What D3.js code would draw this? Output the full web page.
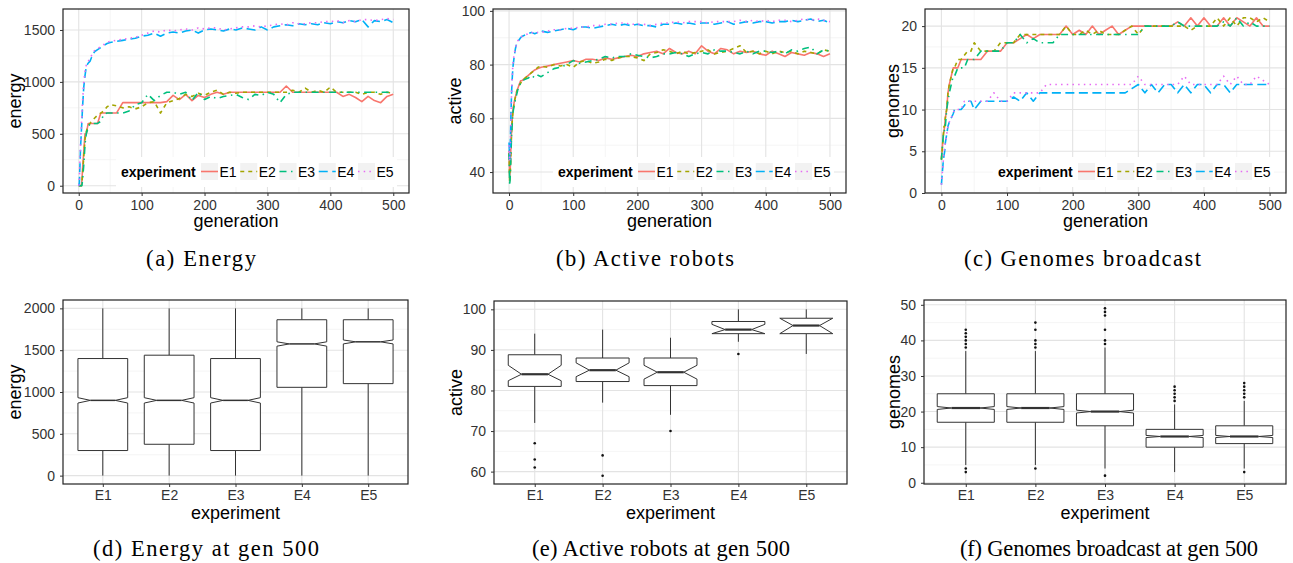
<!DOCTYPE html>
<html>
<head>
<meta charset="utf-8">
<script src="https://cdn.jsdelivr.net/npm/d3@7"></script>
<style>
  body { margin: 0; background: #fff; }
  svg { display: block; }
</style>
</head>
<body>
<svg id="fig" width="1293" height="563"></svg>
<script>
// ---------- data ----------
const experiments = ["E1", "E2", "E3", "E4", "E5"];
const generationTicks = [0, 100, 200, 300, 400, 500];

const generations = [0,1,2,3,4,5,6,8,10,12,15,18,20,25,30,35,40,45,50,
  60,70,80,90,100,110,120,130,140,150,160,170,180,190,200,210,220,230,240,250,
  260,270,280,290,300,310,320,330,340,350,360,370,380,390,400,410,420,430,440,450,
  460,470,480,490,500];

// energy per generation
const energyE1 = [0,0,0,0,0,50,150,330,500,500,600,600,600,600,600,700,700,700,700,
  700,800,800,800,800,800,800,800,810,870, 830,880,820,870,850,880,900,880,900,900,
  900,900,900,900,900,900,900,960,900,900, 900,900,900,900,900,900,860,880,850,810,
  860,820,800,860,880];
const energyE2 = [0,0,0,0,0,20,100,280,450,520,580,600,620,650,680,700,720,760,780,
  770,750,760,740,760,800,810,700,800,820, 840,880,860,890,870,900,920,880,900,890,
  900,900,900,900,900,900,900,900,920,900, 940,900,920,900,950,900,900,900,900,880,
  900,900,880,900,890];
const energyE3 = [0,0,0,0,0,0,50,200,400,500,560,600,600,600,600,620,690,700,700,
  700,700,720,780,800,880,820,870,900,900, 880,900,820,900,830,860,840,860,870,880,
  850,830,880,870,900,880,800,880,900,900, 900,900,900,900,900,900,900,900,900,900,
  900,900,900,900,900];
const energyE4 = [0,30,200,380,500,620,750,950,1060,1150,1180,1200,1230,1290,1310,1330,1350,1370,1380,
  1390,1400,1410,1420,1440,1450,1470,1440,1470,1480, 1470,1490,1500,1470,1500,1510,1500,1490,1510,1500,
  1520,1510,1500,1530,1500,1530,1540,1550,1540,1560, 1550,1560,1550,1570,1560,1580,1570,1590,1580,1600,
  1530,1590,1580,1600,1570];
const energyE5 = [0,50,250,420,540,680,800,1000,1100,1160,1200,1220,1250,1300,1320,1340,1360,1380,1390,
  1400,1410,1420,1430,1450,1470,1490,1480,1500,1490, 1500,1510,1500,1520,1510,1520,1520,1500,1510,1520,
  1530,1530,1540,1530,1540,1550,1560,1550,1570,1560, 1560,1570,1570,1580,1580,1590,1570,1590,1580,1600,
  1600,1590,1600,1610,1600];

// active robots per generation
const activeE1 = [48,38,42,50,56,60,63,66,68,70,72,74,74,75,76,77,78,78.5,79,
  79.5,80,80.5,81,81.5,81,82,82,81.5,82.5, 82,82.5,83,83.5,83,84,84.5,85,84,86,
  84.5,84,85,84,87,85,84,86,85.5,84, 85,84.5,85,84,83.5,85,84,83,84.5,84,
  83.5,84.5,84,83,84];
const activeE2 = [47,36,40,48,55,59,62,66,68,70,72,73,74,75,76,77,78,79,79.5,
  79,80,79.5,80,79,81,81.5,80.5,81,82, 81.5,82.5,83,83,82.5,81.5,84,84.5,85.5,85,
  84,85,84,84.5,85,85.5,84,84.5,85,86, 87,84.5,85,84,85,84,85,84.5,85,84,
  85,84.5,84,85.5,85];
const activeE3 = [47,35,39,47,54,58,62,65,67,69,72,73,74,74.5,75,76,75,76,75.5,
  77,78.5,79,80,81.5,80.5,81,81.5,82,83, 82.5,83,83,84,83.5,83,82.5,83,84,84,
  84.5,84,83,84,84.5,84,85.5,85,85,84.5, 84,85,84,85,85,84.5,85,84,85.5,85,
  86,86.5,84,85.5,85];
const activeE4 = [51,45,50,62,70,75,79,83,86,88,89,90,90.5,91,91.5,92,91.5,92,92.5,
  92,92.5,93,93.5,93,94,94,93.5,94,94.5, 95,94.5,95,94.5,95,94.5,94.5,94,95,95,
  95.5,95,95.5,95,95.5,95.5,95,95.5,96,95, 95.5,96,95.5,96,96,95.5,96,96,96.5,96,
  96.5,97,96,96.5,95.5];
const activeE5 = [50,44,49,61,70,76,80,84,86,88,89.5,90,90.5,91,91.5,92,91.5,92,92,
  92.5,93,93,93.5,93.5,94,94,94.5,94.5,95, 95,95.5,95.5,95,95,95,94.5,95,95.5,95.5,
  96,95.5,96,96,96,95.5,96,96,96,96, 96.5,96,96.5,96,96.5,96,96.5,96.5,96,96.5,
  97,96.5,97,96.5,96];

// genomes broadcast per generation
const genomesE1 = [4,5,6,7,7.5,8,9,10,12,13,14,15,15,15,16,16,16,16,16,
  16,17,17,17,18,18,18.5,19,18.5,19, 19,19,19,20,19,19.5,19,20,19,19.5,
  20,19,19.5,20,20,20,20,20,20,20, 20.5,20,21,20,21,20,20,21,20,21,
  20.5,20,21,20,20];
const genomesE2 = [4,5,6,7,8,8,9,10,12,13,14,15,15,16,16,16.5,17,17,18,
  17,17,17,18,18,18,19,19,19,19, 19,19,19,20,19,19,19.5,19,19.5,19,
  19,19,19.5,20,19,20,20,20,20,20, 20,20,19.5,20,20,20,21,20,21,20,
  21,21,20.5,21,20.5];
const genomesE3 = [4,5,6,7,7,8,8,10,11,12,13,14,14,15,15,15,16,16,16,
  17,17,17,17,18,18,19,18,18.5,18, 18,18,19,19,19,19,19,19,19,19,
  19,19,19,19,19,20,20,20,20,20, 20.5,20,20,20,20,20,20,20.5,20,21,
  20,20.5,20,20,20];
const genomesE4 = [1,2,3,4,4.5,5,6,7,8,8.5,9,9.5,10,10,10,10.5,11,11,10,
  11,11,11,11,11,11.5,11,12,11,12, 12,12,12,12,12,12,12,12,12,12,
  12,12,12,12.5,13,12,13,12,13,13, 12,13,12,13,13,12,13,13,12,13,
  13,13,13,13,13];
const genomesE5 = [1,2,3,4,5,5.5,6,7,8,8.5,9,9.5,10,10,10,11,11,11,11,
  11,11,12,11,11,12,12,12,12,12, 13,13,13,13,13,13,13,13,13,13,
  13,13,13,13,14,13,13,13,13,13, 13,14,13,13,13,13,13,14,13,14,
  13,13,14,13.5,13];

// distributions at generation 500 (whiskers, hinges, median, notch, outliers)
const energyLow = [0, 0, 0, 0, 0];
const energyQ1 = [300, 375, 300, 1056, 1100];
const energyMedian = [900, 900, 900, 1575, 1600];
const energyQ3 = [1400, 1440, 1400, 1864, 1864];
const energyHigh = [2000, 2000, 2000, 2000, 2000];
const energyNotchLo = [868, 868, 868, 1548, 1575];
const energyNotchHi = [932, 932, 932, 1600, 1622];
const energyOutliers = [[], [], [], [], []];

const activeLow = [72, 77, 74, 92, 89];
const activeQ1 = [81, 82.2, 81.2, 94, 94];
const activeMedian = [84, 85, 84.5, 95, 96];
const activeQ3 = [88.8, 88, 88, 97, 97.8];
const activeHigh = [94, 95, 93, 100, 100];
const activeNotchLo = [82.4, 83.4, 82.8, 94, 94];
const activeNotchHi = [86.2, 86.8, 86.2, 96.3, 97.8];
const activeOutliers = [[67, 63, 61], [64, 59], [70], [89], []];

const genomesLow = [5, 5, 4, 3, 4];
const genomesQ1 = [17, 17, 16, 10, 11];
const genomesMedian = [21, 21, 20, 13, 13];
const genomesQ3 = [25, 25, 25, 15, 16];
const genomesHigh = [37, 37, 38, 22, 23];
const genomesNotchLo = [20.6, 20.6, 19.6, 12.7, 12.7];
const genomesNotchHi = [21.4, 21.4, 20.4, 13.3, 13.3];
const genomesOutliers = [[38,39,40,41,42,43,3,4], [38,39,40,43,45,4], [39,40,43,47,48,49,2], [23,24,25,26,27], [24,25,26,27,28,3]];

const captions = ["(a) Energy", "(b) Active robots", "(c) Genomes broadcast",
  "(d) Energy at gen 500", "(e) Active robots at gen 500", "(f) Genomes broadcast at gen 500"];

// ---------- styling ----------
const colors = ["#F8766D", "#A3A500", "#00BF7D", "#00B0F6", "#E76BF3"];
const dashes = [null, "4,4", "7,4.5,1.5,4.5", "9,4.5", "1.5,4.2"];
const fontSans = "'Liberation Sans', Arial, Helvetica, sans-serif";
const fontSerif = "'Liberation Serif', 'Times New Roman', serif";

const svg = d3.select("#fig");
let clipCount = 0;

function styleAxis(sel) {
  sel.select(".domain").remove();
  sel.selectAll(".tick line").attr("stroke", "#333").attr("stroke-width", 1);
  sel.selectAll(".tick text").attr("fill", "#333").attr("font-size", 14).attr("font-family", fontSans);
}

function midpoints(ticks) {
  const m = [];
  for (let i = 0; i < ticks.length - 1; i++) m.push((ticks[i] + ticks[i + 1]) / 2);
  return m;
}

function drawGrid(g, p, x, y, xMajor, xMinor, yMajor, yMinor) {
  const gg = g.append("g");
  const inY = v => y(v) >= p.t && y(v) <= p.b;
  gg.selectAll(null).data(yMinor.filter(inY)).join("line")
    .attr("x1", p.l).attr("x2", p.r).attr("y1", d => y(d)).attr("y2", d => y(d))
    .attr("stroke", "#f2f2f2").attr("stroke-width", 0.8);
  gg.selectAll(null).data(xMinor).join("line")
    .attr("y1", p.t).attr("y2", p.b).attr("x1", d => x(d)).attr("x2", d => x(d))
    .attr("stroke", "#f2f2f2").attr("stroke-width", 0.8);
  gg.selectAll(null).data(yMajor.filter(inY)).join("line")
    .attr("x1", p.l).attr("x2", p.r).attr("y1", d => y(d)).attr("y2", d => y(d))
    .attr("stroke", "#e3e3e3").attr("stroke-width", 1.1);
  gg.selectAll(null).data(xMajor).join("line")
    .attr("y1", p.t).attr("y2", p.b).attr("x1", d => x(d)).attr("x2", d => x(d))
    .attr("stroke", "#e3e3e3").attr("stroke-width", 1.1);
}

function drawBorder(g, p) {
  g.append("rect").attr("x", p.l).attr("y", p.t).attr("width", p.r - p.l).attr("height", p.b - p.t)
    .attr("fill", "none").attr("stroke", "#222").attr("stroke-width", 1.2);
}

function axisTitles(g, p, xTitle, yTitle, yTitleX, xTitleY) {
  g.append("text").attr("x", (p.l + p.r) / 2).attr("y", xTitleY)
    .attr("text-anchor", "middle").attr("font-size", 18).attr("font-family", fontSans)
    .attr("fill", "#000").text(xTitle);
  g.append("text").attr("transform", `translate(${yTitleX},${(p.t + p.b) / 2}) rotate(-90)`)
    .attr("text-anchor", "middle").attr("font-size", 18).attr("font-family", fontSans)
    .attr("fill", "#000").text(yTitle);
}

function drawLegend(g, p) {
  const R = p.r;
  const lg = g.append("g");
  lg.append("rect").attr("x", R - 293).attr("y", p.b - 36).attr("width", 281).attr("height", 30).attr("fill", "#fff");
  lg.append("text").attr("x", R - 288).attr("y", p.b - 16)
    .attr("font-size", 14).attr("font-weight", "bold").attr("font-family", fontSans).attr("fill", "#000")
    .text("experiment");
  experiments.forEach((e, i) => {
    const kx = R - 208 + 39.25 * i;
    lg.append("rect").attr("x", kx).attr("y", p.b - 30).attr("width", 17).attr("height", 17).attr("fill", "#f2f2f2");
    lg.append("line").attr("x1", kx).attr("x2", kx + 17).attr("y1", p.b - 21.5).attr("y2", p.b - 21.5)
      .attr("stroke", colors[i]).attr("stroke-width", 1.6)
      .attr("stroke-dasharray", dashes[i]);
    lg.append("text").attr("x", kx + 18.5).attr("y", p.b - 16)
      .attr("font-size", 14).attr("font-family", fontSans).attr("fill", "#000").text(e);
  });
}

function linePanel(p, yDomain, yMajor, series, yTitle, yTitleX) {
  const g = svg.append("g");
  const x = d3.scaleLinear().domain([-25, 525]).range([p.l, p.r]);
  const y = d3.scaleLinear().domain(yDomain).range([p.b, p.t]);
  drawGrid(g, p, x, y, generationTicks, midpoints(generationTicks), yMajor, midpoints(yMajor));

  const cid = "clip" + (clipCount++);
  g.append("clipPath").attr("id", cid).append("rect")
    .attr("x", p.l).attr("y", p.t).attr("width", p.r - p.l).attr("height", p.b - p.t);
  const line = d3.line().x((d, i) => x(generations[i])).y(d => y(d));
  const lg = g.append("g").attr("clip-path", `url(#${cid})`);
  series.forEach((s, i) => {
    lg.append("path").attr("d", line(s)).attr("fill", "none")
      .attr("stroke", colors[i]).attr("stroke-width", 1.6)
      .attr("stroke-linejoin", "round")
      .attr("stroke-dasharray", dashes[i]);
  });

  drawBorder(g, p);
  g.append("g").attr("transform", `translate(0,${p.b})`)
    .call(d3.axisBottom(x).tickValues(generationTicks).tickFormat(d3.format("d")).tickSize(3).tickPadding(4))
    .call(styleAxis);
  g.append("g").attr("transform", `translate(${p.l},0)`)
    .call(d3.axisLeft(y).tickValues(yMajor).tickFormat(d3.format("d")).tickSize(3).tickPadding(5))
    .call(styleAxis);
  axisTitles(g, p, "generation", yTitle, yTitleX, p.b + 34);
  drawLegend(g, p);
}

function boxPanel(p, yDomain, yMajor, stats, yTitle, yTitleX, widthFrac, medianWidth) {
  const g = svg.append("g");
  const x = d3.scalePoint().domain(experiments).range([p.l, p.r]).padding(0.6);
  const y = d3.scaleLinear().domain(yDomain).range([p.b, p.t]);
  drawGrid(g, p, x, y, experiments, [], yMajor, midpoints(yMajor));

  const hw = x.step() * widthFrac / 2;
  const ink = "#333";
  experiments.forEach((e, i) => {
    const cx = x(e);
    const bg = g.append("g");
    bg.append("line").attr("x1", cx).attr("x2", cx).attr("y1", y(stats.low[i])).attr("y2", y(stats.q1[i]))
      .attr("stroke", ink).attr("stroke-width", 1);
    bg.append("line").attr("x1", cx).attr("x2", cx).attr("y1", y(stats.q3[i])).attr("y2", y(stats.high[i]))
      .attr("stroke", ink).attr("stroke-width", 1);
    const pts = [
      [cx - hw, y(stats.q1[i])], [cx - hw, y(stats.notchLo[i])], [cx - hw / 2, y(stats.median[i])],
      [cx - hw, y(stats.notchHi[i])], [cx - hw, y(stats.q3[i])], [cx + hw, y(stats.q3[i])],
      [cx + hw, y(stats.notchHi[i])], [cx + hw / 2, y(stats.median[i])], [cx + hw, y(stats.notchLo[i])],
      [cx + hw, y(stats.q1[i])]
    ];
    bg.append("path").attr("d", "M" + pts.map(q => q.join(",")).join("L") + "Z")
      .attr("fill", "#fff").attr("stroke", ink).attr("stroke-width", 1);
    bg.append("line").attr("x1", cx - hw / 2).attr("x2", cx + hw / 2)
      .attr("y1", y(stats.median[i])).attr("y2", y(stats.median[i]))
      .attr("stroke", ink).attr("stroke-width", medianWidth);
    bg.selectAll(null).data(stats.outliers[i]).join("circle")
      .attr("cx", cx).attr("cy", d => y(d)).attr("r", 1.3).attr("fill", "#111");
  });

  drawBorder(g, p);
  g.append("g").attr("transform", `translate(0,${p.b})`)
    .call(d3.axisBottom(x).tickSize(3).tickPadding(3.5))
    .call(styleAxis);
  g.append("g").attr("transform", `translate(${p.l},0)`)
    .call(d3.axisLeft(y).tickValues(yMajor).tickFormat(d3.format("d")).tickSize(3).tickPadding(5))
    .call(styleAxis);
  axisTitles(g, p, "experiment", yTitle, yTitleX, p.b + 35);
}

// ---------- panels ----------
linePanel({l: 63, r: 409, t: 9, b: 193}, [-70, 1702], [0, 500, 1000, 1500],
  [energyE1, energyE2, energyE3, energyE4, energyE5], "energy", 20.5);
linePanel({l: 493, r: 846, t: 9, b: 193}, [32.2, 100.7], [40, 60, 80, 100],
  [activeE1, activeE2, activeE3, activeE4, activeE5], "active", 461);
linePanel({l: 925, r: 1286, t: 9, b: 193}, [0, 22.05], [0, 5, 10, 15, 20],
  [genomesE1, genomesE2, genomesE3, genomesE4, genomesE5], "genomes", 899);

boxPanel({l: 63, r: 408, t: 300, b: 484}, [-100, 2100], [0, 500, 1000, 1500, 2000],
  {low: energyLow, q1: energyQ1, median: energyMedian, q3: energyQ3, high: energyHigh,
   notchLo: energyNotchLo, notchHi: energyNotchHi, outliers: energyOutliers},
  "energy", 20.5, 0.75, 1.5);
boxPanel({l: 494, r: 847, t: 301, b: 484}, [56.95, 102.05], [60, 70, 80, 90, 100],
  {low: activeLow, q1: activeQ1, median: activeMedian, q3: activeQ3, high: activeHigh,
   notchLo: activeNotchLo, notchHi: activeNotchHi, outliers: activeOutliers},
  "active", 461.5, 0.78, 2.2);
boxPanel({l: 924, r: 1286, t: 300, b: 484}, [-0.35, 51.35], [0, 10, 20, 30, 40, 50],
  {low: genomesLow, q1: genomesQ1, median: genomesMedian, q3: genomesQ3, high: genomesHigh,
   notchLo: genomesNotchLo, notchHi: genomesNotchHi, outliers: genomesOutliers},
  "genomes", 900, 0.82, 2.2);

// ---------- sub-figure captions ----------
const captionX = [201, 645, 1082.5, 206, 661, 1109];
const captionY = [266, 266, 266, 556, 556, 556];
const captionWidth = [110, 178, 237, 226, 258, 298];
svg.selectAll("text.caption").data(captions).join("text")
  .attr("class", "caption")
  .attr("x", (d, i) => captionX[i]).attr("y", (d, i) => captionY[i])
  .attr("text-anchor", "middle").attr("font-size", 22.5)
  .attr("textLength", (d, i) => captionWidth[i]).attr("lengthAdjust", "spacing")
  .attr("font-family", fontSerif).attr("fill", "#000")
  .text(d => d);
</script>
</body>
</html>
